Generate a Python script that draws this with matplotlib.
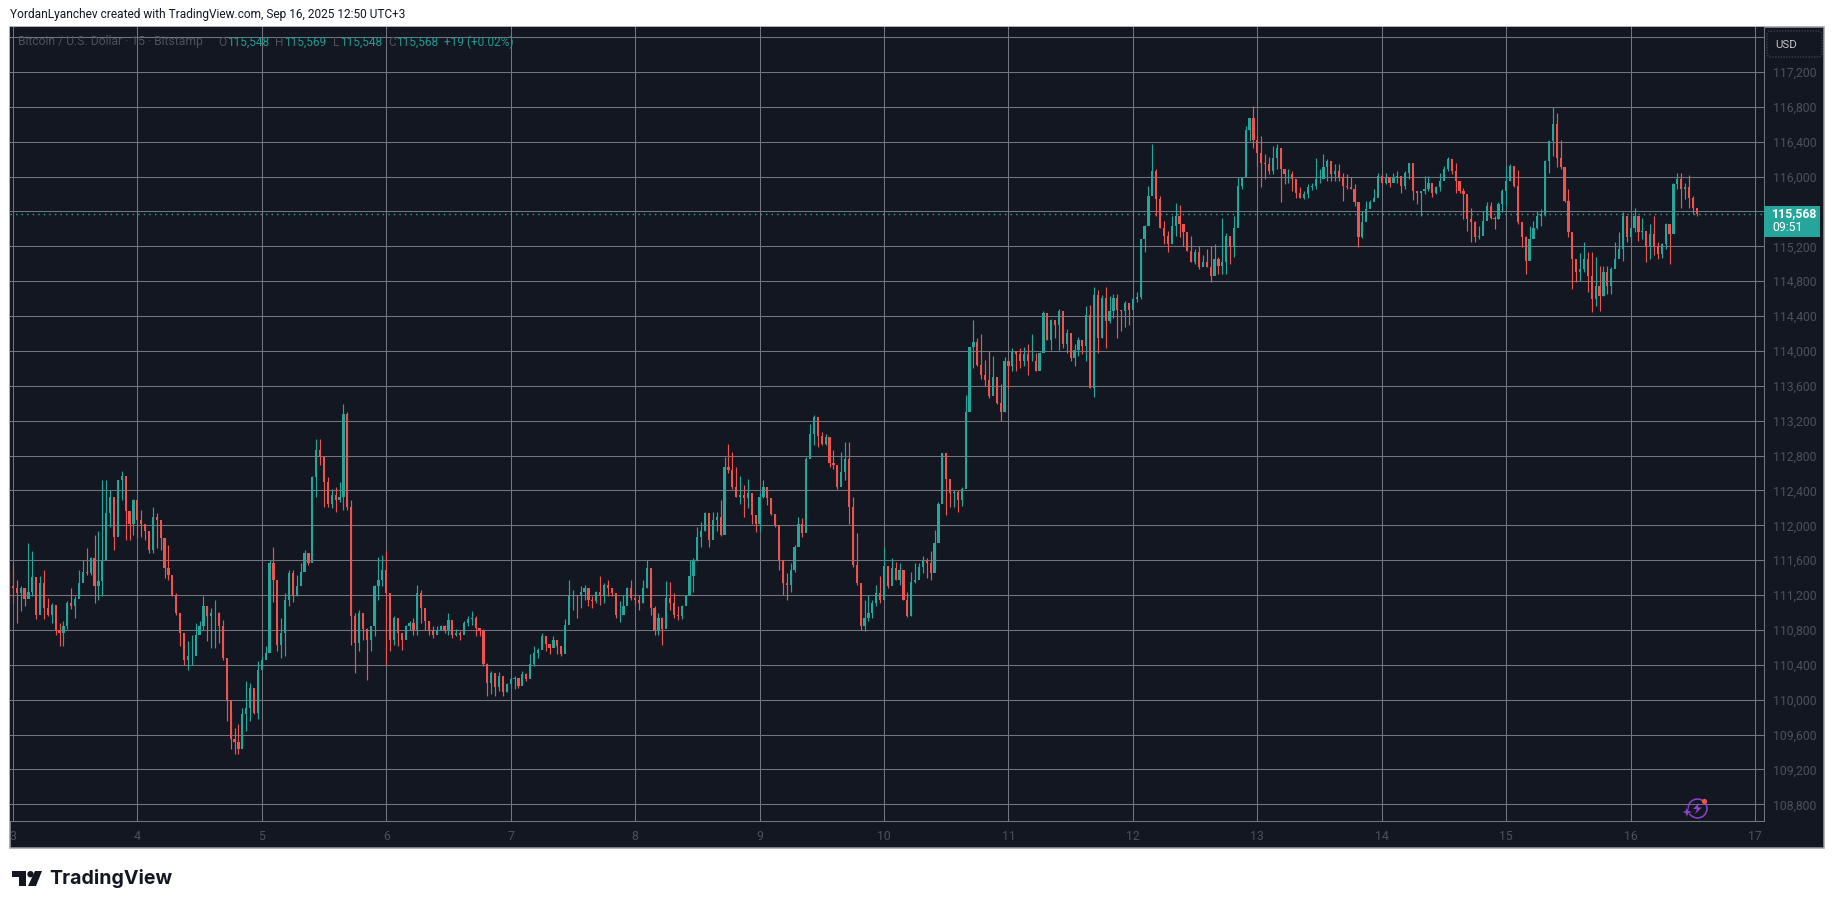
import matplotlib
matplotlib.use('Agg')
import matplotlib.pyplot as plt
from matplotlib.patches import Rectangle, FancyBboxPatch, Circle, Polygon
from matplotlib.transforms import Affine2D

W, H = 1835, 909
BG = '#131722'
GRID = '#74757f'
FRAME = '#9b9ca3'
FAINT = '#4e505a'
UP = '#26a69a'
DOWN = '#ef5350'

price_ticks = [108800, 109200, 109600, 110000, 110400, 110800, 111200, 111600, 112000, 112400, 112800,
               113200, 113600, 114000, 114400, 114800, 115200, 115600, 116000, 116400, 116800, 117200, 117600]
hidden_ticks = [115600, 117600]
day_ticks = [3, 4, 5, 6, 7, 8, 9, 10, 11, 12, 13, 14, 15, 16, 17]
last_price = 115568
first_open = 111400

# 45 minute candles, first bar is just before day 3
closes = [
    111300,
    # day 3
    111280, 111220, 111280, 111150, 111240, 111410, 110975, 111340, 111050, 110975, 111090, 110800, 110770, 110840, 111110, 111070,
    111150, 111340, 111470, 111450, 111620, 111300, 111360, 111600, 112140, 112330, 111870, 112520, 112560, 112160, 112020, 112290,
    # day 4
    112060, 112020, 111930, 111720, 112100, 112060, 111850, 111510, 111430, 111200, 110995, 110765, 110460, 110500, 110500, 110745,
    110840, 111070, 110955, 110995, 110995, 110840, 110480, 110000, 109545, 109510, 109430, 109830, 109910, 110135, 109850, 110345,
    # day 5
    110460, 110540, 111565, 111375, 110630, 110765, 111145, 111450, 111185, 111300, 111470, 111680, 111565, 112555, 112860, 112785,
    112500, 112250, 112345, 112290, 112325, 113280, 112215, 110955, 110650, 110995, 110805, 110690, 110840, 111300, 111375, 111490,
    # day 6
    111220, 110690, 110935, 110765, 110690, 110840, 110880, 110800, 111220, 111050, 110900, 110785, 110745, 110800, 110840, 110800,
    110915, 110745, 110765, 110745, 110880, 110920, 110935, 110825, 110785, 110405, 110195, 110310, 110140, 110270, 110090, 110175,
    # day 7
    110235, 110250, 110155, 110290, 110235, 110405, 110540, 110575, 110730, 110635, 110595, 110690, 110615, 110520, 110860, 111185,
    111205, 111185, 111240, 111280, 111145, 111130, 111240, 111185, 111320, 111280, 111225, 110975, 110975, 111070, 111280, 111165,
    # day 8
    111145, 111110, 111280, 111510, 111050, 110785, 110935, 110805, 111165, 111110, 110975, 110955, 111070, 111185, 111415, 111605,
    111870, 111930, 112140, 111835, 112060, 112100, 111890, 112670, 112630, 112440, 112325, 112345, 112310, 112365, 112120, 112020,
    # day 9
    112325, 112440, 112310, 112135, 112005, 111605, 111335, 111320, 111490, 111755, 112020, 111910, 112765, 113050, 113240, 113030,
    112935, 113010, 112710, 112690, 112440, 112615, 112765, 112215, 111545, 111335, 110840, 110935, 110995, 111110, 111220, 111145,
    # day 10
    111530, 111300, 111510, 111375, 111490, 111145, 110955, 111355, 111375, 111525, 111605, 111565, 111450, 111795, 112250, 112825,
    112535, 112365, 112385, 112290, 112420, 113300, 114050, 114100, 113840, 113720, 113670, 113480, 113700, 113400, 113300, 113880,
    # day 11
    113825, 113995, 113960, 113880, 113960, 113880, 113880, 113770, 113980, 114435, 114130, 114360, 114300, 114455, 114075, 114205,
    113920, 114015, 114130, 114055, 114415, 113575, 114645, 114150, 114605, 114340, 114455, 114605, 114475, 114455, 114550, 114475,
    # day 12
    114600, 114620, 115285, 115435, 115780, 116065, 115740, 115415, 115320, 115225, 115435, 115550, 115455, 115360, 115150, 115015,
    115130, 114960, 115015, 114960, 114865, 115055, 114980, 115015, 115320, 115205, 115415, 115895, 116000, 116540, 116675, 116425,
    # day 13
    116275, 116160, 116140, 116065, 116215, 116330, 116085, 116025, 116025, 115970, 115815, 115760, 115800, 115875, 115895, 115970,
    115970, 116105, 116180, 116025, 116065, 115990, 115895, 115875, 115855, 115705, 115305, 115475, 115625, 115705, 115760, 116010,
    # day 14
    115930, 115990, 115930, 115990, 116010, 115895, 116045, 116160, 115835, 115815, 115835, 115855, 115930, 115815, 115875, 115950,
    116085, 116200, 116065, 115950, 115835, 115800, 115515, 115475, 115305, 115320, 115495, 115665, 115530, 115515, 115685, 115835,
    # day 15
    115950, 116120, 115895, 115475, 115305, 115035, 115285, 115415, 115550, 115570, 116180, 116410, 116600, 116215, 116105, 115720,
    115360, 115055, 114900, 114940, 115055, 114865, 114600, 114750, 114635, 114900, 114750, 114940, 115055, 115170, 115550, 115305,
    # day 16
    115415, 115550, 115360, 115380, 115190, 115340, 115205, 115110, 115225, 115455, 115340, 115910, 115970, 115855, 115875, 115760,
    115645, 115568,
]
highs = [
    111450,
    # day 3
    111560, 111375, 111300, 111280, 111795, 111700, 111225, 111415, 111490, 111165, 111110, 110920, 110880, 110900, 111130, 111280,
    111185, 111490, 111605, 111735, 111640, 111890, 111930, 112520, 112520, 112405, 112155, 112520, 112620, 112405, 112040, 112300,
    # day 4
    112175, 112175, 112020, 111910, 112210, 112140, 112040, 111850, 111775, 111340, 111225, 110920, 110765, 110670, 110745, 110880,
    110900, 111185, 111070, 111050, 111145, 111010, 110915, 110230, 109870, 109680, 109720, 109910, 110210, 110195, 110080, 110440,
    # day 5
    110500, 110615, 111605, 111755, 110860, 110935, 111220, 111490, 111490, 111430, 111565, 111720, 111680, 112565, 112995, 112985,
    112630, 112555, 112420, 112440, 112500, 113395, 113305, 112290, 110995, 111030, 110935, 110820, 110840, 111320, 111640, 111660,
    # day 6
    111700, 111070, 110955, 110860, 110745, 110860, 110900, 110935, 111320, 111260, 110995, 110900, 110840, 110840, 110860, 110860,
    110995, 110850, 110805, 110785, 110900, 110955, 111015, 110955, 110825, 110805, 110420, 110325, 110310, 110320, 110215, 110195,
    # day 7
    110265, 110270, 110215, 110330, 110310, 110520, 110615, 110595, 110765, 110690, 110635, 110730, 110690, 110575, 110925, 111375,
    111260, 111205, 111300, 111320, 111240, 111185, 111250, 111420, 111340, 111375, 111280, 111130, 111130, 111205, 111290, 111375,
    # day 8
    111225, 111205, 111375, 111600, 111420, 111070, 110995, 110950, 111365, 111355, 111225, 111070, 111090, 111205, 111605, 111625,
    111985, 112040, 112155, 112040, 112155, 112155, 112290, 112785, 112930, 112840, 112670, 112565, 112460, 112535, 112250, 112100,
    # day 9
    112365, 112520, 112405, 112310, 112135, 111830, 111605, 111450, 111565, 111775, 112100, 112080, 112785, 113165, 113270, 113165,
    113070, 113050, 112920, 112860, 112670, 112840, 112950, 112950, 112325, 111910, 111325, 111145, 111205, 111145, 111320, 111415,
    # day 10
    111735, 111510, 111620, 111580, 111565, 111300, 111240, 111470, 111565, 111565, 111650, 111620, 111700, 111945, 112270, 112835,
    112835, 112410, 112405, 112410, 112440, 113490, 114050, 114360, 114150, 114200, 113900, 114000, 113940, 113620, 113620, 113930,
    # day 11
    113865, 114035, 113995, 114035, 114045, 114085, 114200, 113980, 113985, 114455, 114340, 114365, 114320, 114480, 114265, 114250,
    114120, 114075, 114160, 114110, 114520, 114530, 114730, 114700, 114645, 114730, 114625, 114655, 114655, 114465, 114570, 114550,
    # day 12
    114620, 114680, 115285, 115445, 115895, 116370, 116085, 115780, 115495, 115380, 115550, 115700, 115670, 115445, 115265, 115320,
    115170, 115205, 115095, 115170, 115205, 115225, 115075, 115520, 115350, 115245, 115545, 115990, 116000, 116585, 116675, 116815,
    # day 13
    116465, 116470, 116255, 116230, 116350, 116370, 116320, 116065, 116085, 116065, 115970, 115885, 115835, 115910, 115930, 116215,
    116085, 116255, 116200, 116085, 116140, 116140, 116045, 116025, 116000, 115910, 115670, 115610, 115720, 115730, 115855, 116040,
    # day 14
    116025, 116045, 115975, 116045, 116065, 116000, 116065, 116160, 116065, 115835, 115835, 116010, 116010, 115855, 115895, 116045,
    116120, 116220, 116180, 116160, 115930, 115865, 115760, 115645, 115495, 115435, 115610, 115705, 115705, 115550, 115705, 115855,
    # day 15
    116120, 116140, 116120, 116070, 115455, 115320, 115435, 115495, 115610, 115625, 116185, 116425, 116800, 116725, 116425, 116105,
    115855, 115205, 115015, 115125, 115245, 115140, 115130, 115075, 114980, 114980, 114980, 114960, 115245, 115360, 115590, 115550,
    # day 16
    115545, 115645, 115520, 115530, 115305, 115455, 115550, 115245, 115240, 115465, 115400, 115925, 116045, 116040, 115930, 116015,
    115780, 115600,
]
lows = [
    111110,
    # day 3
    111110, 110880, 111015, 111070, 111225, 111185, 110920, 111070, 110920, 110955, 110880, 110745, 110615, 110615, 110805, 111035,
    110935, 111185, 111435, 111435, 111435, 111110, 111145, 111185, 111945, 111985, 111720, 112310, 112290, 111835, 111835, 111890,
    # day 4
    111850, 111870, 111830, 111680, 111680, 111740, 111720, 111390, 111375, 111185, 110975, 110615, 110400, 110345, 110400, 110670,
    110800, 110800, 110670, 110595, 110595, 110650, 110460, 109755, 109430, 109375, 109375, 109450, 109640, 109755, 109830, 109775,
    # day 5
    110365, 110500, 110765, 111125, 110555, 110480, 110500, 111070, 111125, 111185, 111395, 111545, 111545, 111680, 112325, 112690,
    112215, 112215, 112195, 112155, 112270, 112175, 112175, 110630, 110310, 110555, 110690, 110230, 110555, 110725, 111145, 111300,
    # day 6
    110400, 110555, 110630, 110610, 110575, 110785, 110800, 110745, 110745, 110880, 110800, 110745, 110710, 110765, 110800, 110765,
    110745, 110710, 110730, 110690, 110785, 110850, 110860, 110730, 110730, 110385, 110040, 110060, 110040, 110100, 110040, 110090,
    # day 7
    110135, 110125, 110135, 110270, 110215, 110270, 110385, 110480, 110615, 110555, 110520, 110650, 110520, 110505, 110710, 111070,
    111030, 110935, 111050, 111145, 111070, 111050, 111110, 111090, 111110, 111185, 111185, 110935, 110890, 111050, 111145, 111145,
    # day 8
    111090, 111030, 111110, 111280, 110975, 110745, 110745, 110630, 110840, 111030, 110935, 110910, 110925, 111110, 111225, 111240,
    111585, 111755, 111930, 111755, 111910, 111930, 111880, 112250, 112595, 112420, 112325, 112250, 112100, 112195, 112020, 111925,
    # day 9
    111925, 112310, 112230, 112115, 111985, 111490, 111205, 111145, 111240, 111470, 111795, 111870, 112520, 112805, 112920, 112900,
    112920, 112920, 112670, 112650, 112420, 112595, 112520, 112020, 111525, 111320, 110800, 110785, 110900, 110935, 111070, 111110,
    # day 10
    111185, 111280, 111395, 111375, 111320, 111145, 110950, 110955, 111335, 111415, 111450, 111395, 111375, 111510, 111985, 112440,
    112115, 112215, 112215, 112155, 112220, 112730, 113430, 113800, 113830, 113680, 113600, 113460, 113500, 113390, 113200, 113300,
    # day 11
    113575, 113770, 113770, 113805, 113825, 113720, 113880, 113770, 113845, 114075, 114120, 114015, 114150, 114015, 114035, 113980,
    113880, 113825, 113940, 113960, 113880, 113575, 113470, 113980, 114150, 114035, 114320, 114380, 114150, 114225, 114280, 114300,
    # day 12
    114520, 114560, 114600, 115130, 115480, 115835, 115550, 115410, 115225, 115130, 115360, 115320, 115305, 115205, 115150, 115015,
    114995, 114940, 114980, 114960, 114790, 114980, 114885, 114885, 114885, 114995, 115075, 115455, 115855, 116120, 116410, 116330,
    # day 13
    116105, 115875, 115970, 116025, 116025, 116085, 115705, 115910, 115930, 115835, 115760, 115760, 115740, 115760, 115845, 115855,
    115930, 116045, 115950, 115950, 115950, 115950, 115720, 115855, 115855, 115665, 115195, 115290, 115495, 115645, 115740, 115910,
    # day 14
    115915, 115915, 115880, 115950, 115930, 115815, 115855, 115970, 115735, 115685, 115545, 115800, 115835, 115770, 115800, 115835,
    115970, 116065, 116025, 115815, 115815, 115515, 115380, 115245, 115255, 115285, 115400, 115530, 115515, 115400, 115515, 115590,
    # day 15
    115665, 115950, 115875, 115455, 115190, 114885, 115190, 115340, 115400, 115435, 115550, 116045, 116235, 116105, 116085, 115705,
    115305, 114710, 114795, 114805, 114900, 114675, 114445, 114520, 114455, 114635, 114655, 114655, 114960, 115110, 115035, 115245,
    # day 16
    115245, 115360, 115265, 115285, 115015, 115055, 115095, 115055, 115065, 115170, 115000, 115570, 115855, 115645, 115740, 115645,
    115570, 115548,
]

opens = [first_open] + closes[:-1]
days = [3 + (i - 1) / 32 for i in range(len(closes))]

fig = plt.figure(figsize=(W / 100, H / 100), dpi=100, facecolor='white')
# everything outside the axes is placed in screen pixels, y going down
px = Affine2D().scale(1 / W, -1 / H).translate(0, 1) + fig.transFigure

fig.patches.append(Rectangle((10, 27), 1814, 821, transform=px, facecolor=BG, edgecolor=FRAME, linewidth=1.1, zorder=-5))

ax = fig.add_axes([10 / W, 1 - 821.2 / H, 1753.5 / W, 794.2 / H], facecolor=BG, zorder=1)
ax.set_xlim(2.9765, 17.0674)
ax.set_ylim(108606, 117716)
ax.set_axisbelow(True)
ax.grid(True, color=GRID, linewidth=0.75)
for side in ['top', 'left']:
    ax.spines[side].set_visible(False)
for side in ['bottom', 'right']:
    ax.spines[side].set_color(GRID)
    ax.spines[side].set_linewidth(0.75)

ax.yaxis.tick_right()
ax.set_yticks(price_ticks)
ax.set_yticklabels(['' if v in hidden_ticks else f'{v:,}' for v in price_ticks])
ax.set_xticks(day_ticks)
ax.set_xticklabels([str(d) for d in day_ticks])
ax.tick_params(axis='y', length=0, pad=7, labelsize=8.8, labelcolor=FAINT, labelfontfamily='Roboto')
ax.tick_params(axis='x', length=0, pad=6, labelsize=8.8, labelcolor=FAINT, labelfontfamily='Roboto')

colors = [UP if c >= o else DOWN for o, c in zip(opens, closes)]
ax.vlines(days, lows, highs, colors=colors, linewidth=0.85, zorder=3)
ax.bar(days, [abs(c - o) for o, c in zip(opens, closes)], bottom=[min(o, c) for o, c in zip(opens, closes)],
       width=0.018, color=colors, linewidth=0, zorder=3)

ax.axhline(last_price, color=UP, linewidth=1.0, linestyle=(0, (1, 3)), zorder=2)

# header line and chart legend
fig.text(10 / W, 1 - 14.5 / H, 'YordanLyanchev created with TradingView.com, Sep 16, 2025 12:50 UTC+3',
         fontsize=8.6, family='Roboto', color='#131722', va='center')
legend_y = 42
legend_color = '#229a8e'
fig.text(18 / W, 1 - legend_y / H, 'Bitcoin / U.S. Dollar · 15 · Bitstamp', fontsize=8.7, family='Roboto', color=FAINT, va='center', zorder=3)
for x, s, c in [(218, 'O', FAINT), (227, '115,548', legend_color), (275, 'H', FAINT), (284, '115,569', legend_color),
                (333, 'L', FAINT), (340, '115,548', legend_color), (388, 'C', FAINT), (396, '115,568', legend_color),
                (444, '+19 (+0.02%)', legend_color)]:
    fig.text(x / W, 1 - legend_y / H, s, fontsize=8.6, family='Roboto', color=c, va='center', zorder=3)

# currency button
fig.patches.append(FancyBboxPatch((1767, 31), 55, 26, boxstyle='round,pad=0,rounding_size=4', transform=px,
                                  facecolor=BG, edgecolor='#3c3f49', linewidth=1, linestyle=(0, (1, 1)), zorder=5))
fig.text(1786 / W, 1 - 44.5 / H, 'USD', fontsize=8.2, family='Roboto', color='#c4c6cc', ha='center', va='center', zorder=6)

# last price tag
fig.patches.append(Rectangle((1764, 206), 56, 31, transform=px, facecolor=UP, edgecolor='none', zorder=5))
fig.text(1772 / W, 1 - 214 / H, f'{last_price:,}', fontsize=8.8, family='Roboto', weight='bold', color='white', va='center', zorder=6)
fig.text(1772 / W, 1 - 228 / H, '09:51', fontsize=8.8, family='Roboto', color='white', va='center', zorder=6)

# purple badge
PURPLE = '#8e44c9'
fig.patches.append(Circle((1697.5, 808.5), 9.5, transform=px, facecolor='none', edgecolor=PURPLE, linewidth=1.1, zorder=5))
fig.patches.append(Polygon([(1699, 803), (1693, 809), (1697, 809), (1695, 814), (1702, 807.5), (1698, 807.5)], transform=px,
                           facecolor=PURPLE, edgecolor='none', zorder=6))
fig.patches.append(Polygon([(1687, 806), (1688.5, 810.5), (1693, 812), (1688.5, 813.5), (1687, 818), (1685.5, 813.5), (1682, 812), (1685.5, 810.5)],
                           transform=px, facecolor=PURPLE, edgecolor=BG, linewidth=0.5, zorder=6))
fig.patches.append(Circle((1704.5, 801.5), 2.6, transform=px, facecolor=DOWN, edgecolor='none', zorder=6))

# TradingView logo
LOGO = '#131722'
fig.patches.append(Polygon([(12, 871), (26, 871), (26, 886), (19, 886), (19, 877), (12, 877)], transform=px, facecolor=LOGO, edgecolor='none'))
fig.patches.append(Circle((30.5, 874.2), 3.2, transform=px, facecolor=LOGO, edgecolor='none'))
fig.patches.append(Polygon([(35, 871), (42, 871), (36, 886), (28, 886)], transform=px, facecolor=LOGO, edgecolor='none'))
fig.text(49 / W, 1 - 879 / H, 'TradingView', fontsize=14.1, family='Inter', weight='bold', color=LOGO, va='center')

fig.savefig('out.png', dpi=100, facecolor='white')
print(len(closes), len(highs), len(lows))
